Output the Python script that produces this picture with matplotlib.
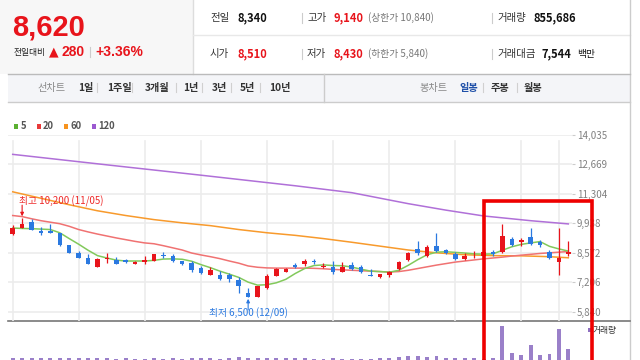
import numpy as np
import matplotlib
matplotlib.use("Agg")
import matplotlib.pyplot as plt
from matplotlib.patches import Rectangle

plt.rcParams['font.family'] = ['Noto Sans CJK KR', 'DejaVu Sans']

# ---- 일봉 데이터 (60일) ----
opens = [9420, 9730, 9980, 9570, 9600, 9480, 8910, 8560, 8350, 7920,
         8290, 8250, 8220, 8070, 8160, 8190, 8480, 8420, 8190, 8100,
         7870, 7560, 7530, 7530, 7330, 6720, 6540, 6920, 7490, 7690,
         8020, 8040, 8200, 7890, 7890, 7700, 8020, 7890, 7540, 7460,
         7520, 7810, 8220, 8760, 8410, 8880, 8680, 8530, 8290, 8400,
         8440, 8600, 8600, 9220, 9060, 9300, 9060, 8600, 8130, 8510]
closes = [9730, 9900, 9640, 9480, 9510, 8950, 8580, 8350, 8040, 8300,
          8340, 8070, 8130, 8130, 8220, 8500, 8420, 8180, 8070, 7770,
          7640, 7760, 7360, 7360, 7030, 6540, 7040, 7490, 7800, 7840,
          7890, 8190, 8160, 7960, 7660, 7890, 7840, 7680, 7500, 7580,
          7680, 8140, 8570, 8560, 8830, 8650, 8560, 8270, 8440, 8440,
          8630, 8500, 9370, 8950, 9170, 8990, 8920, 8320, 8340, 8620]
highs = [9880, 10200, 10150, 9790, 9910, 9500, 8950, 8650, 8530, 8310,
         8560, 8380, 8300, 8200, 8400, 8520, 8600, 8500, 8200, 8190,
         7950, 7900, 7720, 7650, 7450, 6960, 7050, 7580, 7850, 7880,
         8080, 8280, 8260, 8080, 8190, 8150, 8150, 7990, 7840, 7600,
         7730, 8200, 8620, 9100, 8910, 9500, 8760, 8600, 8560, 8650,
         8780, 8700, 9900, 9300, 9260, 9700, 9150, 8700, 9700, 9140]
lows = [9400, 9700, 9620, 9390, 9480, 8900, 8550, 8320, 8030, 7900,
        8100, 8040, 8100, 8050, 8070, 8180, 8350, 8150, 8000, 7700,
        7600, 7560, 7300, 7200, 6720, 6500, 6520, 6900, 7480, 7660,
        7870, 7980, 8050, 7850, 7580, 7700, 7780, 7620, 7480, 7380,
        7430, 7780, 8200, 8450, 8380, 8600, 8520, 8230, 8250, 8330,
        8420, 8420, 8560, 8900, 8870, 8950, 8860, 8300, 7550, 8430]
volumes = [150000, 190000, 130000, 180000, 130000, 180000, 190000, 180000, 120000, 180000,
           120000, 110000, 120000, 110000, 100000, 120000, 110000, 120000, 110000, 120000,
           180000, 120000, 110000, 180000, 230000, 190000, 120000, 180000, 190000, 180000,
           120000, 180000, 110000, 100000, 120000, 110000, 100000, 110000, 100000, 120000,
           130000, 210000, 280000, 330000, 210000, 330000, 130000, 120000, 130000, 120000,
           110000, 140000, 2650000, 570000, 365000, 1170000, 412000, 490000, 2390000, 855686]

ma5 = [9720, 9700, 9690, 9670, 9650, 9500, 9230, 8970, 8690, 8440,
       8330, 8230, 8190, 8190, 8190, 8220, 8280, 8290, 8270, 8180,
       8020, 7880, 7720, 7580, 7430, 7210, 7070, 7090, 7180, 7340,
       7610, 7840, 7980, 8010, 7980, 7970, 7910, 7810, 7720, 7700,
       7670, 7760, 7990, 8250, 8480, 8600, 8620, 8590, 8560, 8520,
       8510, 8520, 8690, 8850, 8960, 9030, 9090, 8870, 8750, 8650]
ma20 = [10300, 10250, 10150, 10060, 9990, 9920, 9800, 9650, 9540, 9440,
        9350, 9260, 9180, 9100, 9030, 8990, 8900, 8800, 8700, 8560,
        8470, 8390, 8300, 8190, 8090, 7960, 7900, 7870, 7860, 7860,
        7860, 7860, 7850, 7830, 7800, 7780, 7760, 7740, 7720, 7700,
        7680, 7700, 7760, 7840, 7920, 8000, 8070, 8140, 8190, 8240,
        8290, 8330, 8370, 8420, 8460, 8500, 8540, 8570, 8600, 8630]
ma60_days = [0, 3, 6, 9, 12, 15, 18, 21, 24, 27, 30, 33, 36, 39, 42, 45, 48, 51, 54, 57, 59]
ma60 = [11400, 11100, 10800, 10520, 10300, 10110, 9960, 9830, 9650, 9500, 9380,
        9230, 9060, 8880, 8700, 8570, 8480, 8440, 8430, 8390, 8340]
ma120_days = [0, 10, 20, 30, 36, 42, 46, 50, 55, 59]
ma120 = [13137, 12650, 12170, 11680, 11360, 10850, 10550, 10280, 10060, 9910]

price_ticks = [5840, 7206, 8572, 9938, 11304, 12669, 14035]
grid_days = [0, 7, 14, 20, 27, 34, 40, 47, 54, 58]
box_days = (50.04, 61.5)
box_top = 10960

RED = '#e8141b'
BLUE = '#2b79e0'
W, H = 640, 360

fig = plt.figure(figsize=(6.4, 3.6), dpi=100)


def px_axes(l, t, r, b):
    return fig.add_axes([l / W, 1 - b / H, (r - l) / W, (b - t) / H])


bg = px_axes(0, 0, W, H)
bg.set_xlim(0, W)
bg.set_ylim(H, 0)
bg.axis('off')

# ---- 상단 시세 정보 ----
bg.add_patch(Rectangle((0, 0), 193, 74, fc='#f7f7f7', ec='none'))
bg.plot([193, 193], [0, 74], color='#dddddd', lw=1)
bg.plot([193, 630], [35, 35], color='#e8e8e8', lw=1)
bg.plot([630, 630], [0, H], color='#cccccc', lw=1)

bg.text(12, 27, '8,620', color=RED, fontsize=21, fontweight='bold',
        family='Liberation Sans', va='center')
bg.text(14, 52, '전일대비', fontsize=6.3, color='#222222', va='center')
bg.text(49, 52, '▲', fontsize=9, color=RED, va='center', family='DejaVu Sans')
bg.text(61, 52, '280', fontsize=10, color=RED, va='center', fontweight='bold',
        family='Liberation Sans')
bg.plot([90, 90], [47, 57], color='#cccccc', lw=0.8)
bg.text(95, 52, '+3.36%', fontsize=10, color=RED, va='center', fontweight='bold',
        family='Liberation Sans')

row1 = [('전일', '8,340', '#111111', ''), ('고가', '9,140', RED, '(상한가 10,840)'),
        ('거래량', '855,686', '#111111', '')]
row2 = [('시가', '8,510', RED, ''), ('저가', '8,430', RED, '(하한가 5,840)'),
        ('거래대금', '7,544', '#111111', '백만')]
label_x = [210, 307, 497]
value_x = [[237, 334, 533], [237, 334, 542]]
for r, (row, y) in enumerate([(row1, 17.5), (row2, 54)]):
    for k, (lab, val, col, extra) in enumerate(row):
        bg.text(label_x[k], y, lab, fontsize=7.5, color='#333333', va='center')
        bg.text(value_x[r][k], y, val, fontsize=8, color=col, va='center',
                fontweight='bold')
        if extra:
            ex = 368 if k == 1 else 577
            bg.text(ex, y, extra, fontsize=7, color='#777777' if k == 1 else '#111111',
                    va='center')
    for sx in (301.7, 491.7):
        bg.plot([sx, sx], [y - 5, y + 5], color='#cccccc', lw=0.8)

# ---- 기간 선택 바 ----
bg.add_patch(Rectangle((8, 74), 622, 27.5, fc='#f4f5f8', ec='none'))
bg.plot([8, 630], [74, 74], color='#bbbbbb', lw=1)
bg.plot([8, 630], [101.5, 101.5], color='#cccccc', lw=1)
bg.plot([323.6, 323.6], [74, 101.5], color='#cccccc', lw=1)
line_items = ['1일', '1주일', '3개월', '1년', '3년', '5년', '10년']
line_x = [78, 107, 145, 183, 212, 240, 269]
bg.text(37, 87.5, '선차트', fontsize=7.3, color='#888888', va='center')
for lab, x in zip(line_items, line_x):
    bg.text(x, 87.5, lab, fontsize=7.3, color='#333333', va='center', fontweight='bold')
for sx in (97, 132, 176, 202, 231, 259.5):
    bg.plot([sx, sx], [83, 92], color='#d0d0d0', lw=0.8)
bg.text(419, 87.5, '봉차트', fontsize=7.3, color='#888888', va='center')
candle_items = ['일봉', '주봉', '월봉']
candle_x = [459, 491, 524]
for lab, x in zip(candle_items, candle_x):
    bg.text(x, 87.5, lab, fontsize=7.3, va='center', fontweight='bold',
            color='#1e4fa8' if lab == '일봉' else '#333333')
for sx in (483, 516.5):
    bg.plot([sx, sx], [83, 92], color='#d0d0d0', lw=0.8)

# ---- 이동평균 범례 ----
legend_items = [('5', '#5bb031', 14), ('20', '#e83a3a', 36.7),
                ('60', '#f7931e', 64), ('120', '#9b59d0', 91.7)]
for lab, col, x in legend_items:
    bg.add_patch(Rectangle((x, 124.2), 4.3, 4.3, fc=col, ec='none'))
    bg.text(x + 6.5, 126.4, lab, fontsize=6.8, color='#555555', va='center',
            fontweight='bold')

# ---- 가격 차트 ----
days = np.arange(len(closes))
ax = px_axes(8, 135, 572, 321)
ax.set_xlim(-0.5, 59.39)
ax.set_ylim(5407, 14035)
ax.patch.set_alpha(0)
for s in ax.spines.values():
    s.set_visible(False)
for p in price_ticks:
    ax.axhline(p, color='#ececec', lw=1.2, zorder=0)
for d in grid_days:
    ax.axvline(d, color='#ececec', lw=1.2, zorder=0, ymax=0.97)
ax.set_xticks([])
ax.yaxis.tick_right()
ax.set_yticks(price_ticks)
ax.set_yticklabels([f'{p:,}' for p in price_ticks])
ax.tick_params(axis='y', length=2, color='#cccccc', labelcolor='#808080',
               labelsize=7, pad=1.5)

ax.plot(ma120_days, ma120, color='#b070d8', lw=1.1, zorder=2)
ax.plot(ma60_days, ma60, color='#f89a2c', lw=1.1, zorder=2)
ax.plot(days, ma20, color='#f07272', lw=1.1, zorder=2)
ax.plot(days, ma5, color='#82c95b', lw=1.1, zorder=2)

for i in days:
    o, c = opens[i], closes[i]
    col = RED if c >= o else BLUE
    ax.vlines(i, lows[i], highs[i], color=col, lw=0.9, zorder=3)
    ax.bar(i, max(abs(c - o), 30), bottom=min(o, c), width=0.48, color=col, zorder=4)

hi = int(np.argmax(highs))
lo = int(np.argmin(lows))
ax.annotate('', xy=(hi, highs[hi]), xytext=(0, 9), textcoords='offset points',
            arrowprops=dict(arrowstyle='-|>', color=RED, lw=0.8, mutation_scale=5,
                            shrinkA=0, shrinkB=1))
ax.annotate(f'최고 {highs[hi]:,} (11/05)', xy=(hi, highs[hi]), xytext=(-2, 11.5),
            textcoords='offset points', color='#ee2a2a', fontsize=7, ha='left',
            va='center')
ax.annotate('', xy=(lo, lows[lo]), xytext=(0, -9), textcoords='offset points',
            arrowprops=dict(arrowstyle='-|>', color=BLUE, lw=0.8, mutation_scale=5,
                            shrinkA=0, shrinkB=1))
ax.annotate(f'최저 {lows[lo]:,} (12/09)', xy=(lo, lows[lo]), xytext=(0, -11.5),
            textcoords='offset points', color=BLUE, fontsize=7, ha='center',
            va='center', annotation_clip=False)

# ---- 거래량 ----
vax = px_axes(8, 321, 572, 360)
vax.set_xlim(-0.5, 59.39)
vax.set_ylim(0, 3030000)
vax.bar(days, volumes, width=0.42, color='#9a80c9')
vax.axis('off')

bg.add_patch(Rectangle((588, 328), 4, 4, fc='#8e6fc0', ec='none'))
bg.text(593, 330, '거래량', fontsize=6.3, color='#333333', va='center')

# ---- 오버레이: 구분선, 강조 박스 ----
ov = px_axes(0, 0, W, H)
ov.set_xlim(0, W)
ov.set_ylim(H, 0)
ov.axis('off')
ov.plot([8, 630], [321, 321], color='#777777', lw=1.2)
ax.set_zorder(5)
ax.add_patch(Rectangle((box_days[0], -5000), box_days[1] - box_days[0], box_top + 5000,
                       fill=False, ec='#ee0000', lw=2.6, clip_on=False, zorder=10))

fig.savefig('out.png', dpi=100)
